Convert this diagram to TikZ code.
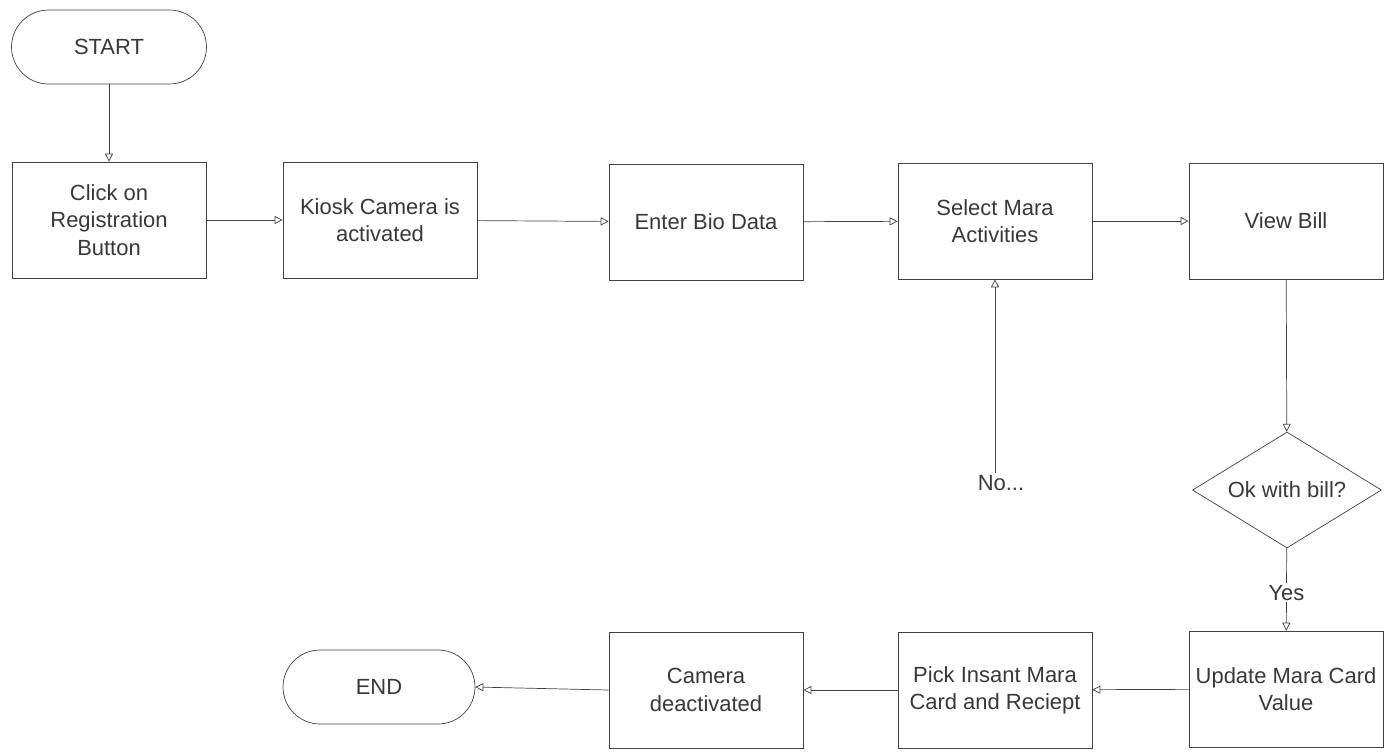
\documentclass[tikz,border=0pt]{standalone}
\usepackage{fontspec}
\setmainfont{Liberation Sans}
\usepackage{tikz}
\usetikzlibrary{arrows.meta,positioning,shapes.geometric,calc}
\definecolor{lineGray}{gray}{0.25}
\definecolor{textGray}{gray}{0.22}
\tikzset{
  box/.style={rectangle, draw=lineGray, thin, align=center, text=textGray, minimum width=3.88cm, minimum height=2.32cm, inner sep=0pt, font=\fontsize{12.5}{15.5}\selectfont},
  term/.style={rectangle, rounded corners=7.4mm, draw=lineGray, thin, align=center, text=textGray, minimum width=3.9cm, minimum height=1.48cm, inner sep=0pt, font=\fontsize{12.5}{15.5}\selectfont},
  decide/.style={diamond, aspect=1.63, draw=lineGray, thin, align=center, text=textGray, minimum width=3.78cm, minimum height=2.32cm, inner sep=0pt, font=\fontsize{12.5}{15.5}\selectfont},
  lbl/.style={text=textGray, inner sep=1pt, font=\fontsize{12.5}{15.5}\selectfont},
  arrow/.style={-{Triangle[open, length=1.6mm, width=1.6mm]}, thin, draw=lineGray}
}

\begin{document}
\begin{tikzpicture}[x=0.02cm, y=-0.02cm]
  \useasboundingbox (0,0) rectangle (1393,752);
  % top row
  \node[term] (start) at (109,47) {START};
  \node[box] (click) at (109,220) {Click on\\Registration\\Button};
  \node[box] (kiosk) at (380,220) {Kiosk Camera is\\activated};
  \node[box] (bio) at (706,222) {Enter Bio Data};
  \node[box] (sel) at (995,221) {Select Mara\\Activities};
  \node[box] (bill) at (1286,221) {View Bill};
  % decision
  \node[decide] (ok) at (1287,490) {Ok with bill?};
  \node[lbl] (no) at (1001,483) {No...};
  % bottom row
  \node[box] (upd) at (1286,689) {Update Mara Card\\Value};
  \node[box] (pick) at (995,690) {Pick Insant Mara\\Card and Reciept};
  \node[box] (cam) at (706,690) {Camera\\deactivated};
  \node[term, minimum width=3.84cm] (end) at (379,687) {END};
  \draw[arrow] (start) -- (click);
  \draw[arrow] (click) -- (kiosk);
  \draw[arrow] (kiosk) -- (bio);
  \draw[arrow] (bio) -- (sel);
  \draw[arrow] (sel) -- (bill);
  \draw[arrow] (bill) -- (ok);
  \draw[arrow] (ok) -- node[lbl, fill=white, pos=0.54] {Yes} (upd);
  \draw[arrow] (sel.south |- no.north) -- (sel.south);
  \draw[arrow] (upd) -- (pick);
  \draw[arrow] (pick) -- (cam);
  \draw[arrow] (cam.west) -- (end.east);
\end{tikzpicture}
\end{document}
